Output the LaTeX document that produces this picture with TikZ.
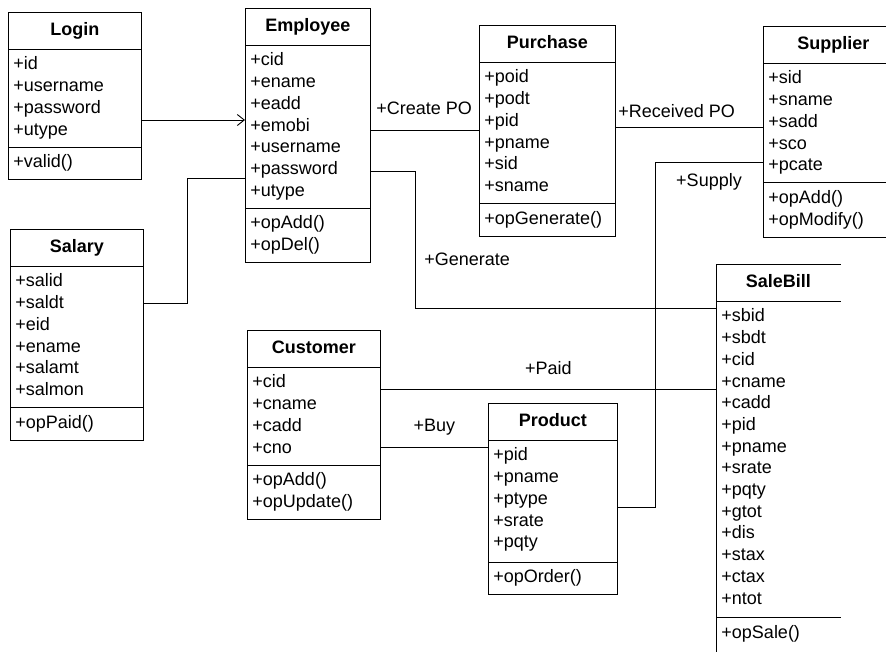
\documentclass[tikz,border=0pt]{standalone}
\usepackage{fontspec}
\setmainfont{Liberation Sans}
\usetikzlibrary{shapes.multipart,arrows.meta}

\newcommand{\clsname}[1]{\makebox[\linewidth]{\rule[-8pt]{0pt}{26pt}\textbf{#1}}}

\begin{document}
\begin{tikzpicture}[x=1pt,y=-1pt,
cls/.style={rectangle split, rectangle split parts=3, draw, line width=0.9pt,
  inner xsep=5pt, inner ysep=5pt, align=left, anchor=north west,
  font=\fontsize{18}{21.7}\selectfont},
lbl/.style={inner sep=2pt, font=\fontsize{18}{21.7}\selectfont},
link/.style={line width=0.9pt},]
\useasboundingbox (0,0) rectangle (886,651);
\clip (0,0) rectangle (886,651);

\node[cls, text width=123pt] (login) at (8,12)
  {\clsname{Login}
   \nodepart{two}\strut+id\\+username\\+password\\+utype\strut
   \nodepart{three}\strut+valid()\strut};
\node[cls, text width=115pt] (emp) at (245,8)
  {\clsname{Employee}
   \nodepart{two}\strut+cid\\+ename\\+eadd\\+emobi\\+username\\+password\\+utype\strut
   \nodepart{three}\strut+opAdd()\\+opDel()\strut};
\node[cls, text width=123pt] (sal) at (10,229)
  {\clsname{Salary}
   \nodepart{two}\strut+salid\\+saldt\\+eid\\+ename\\+salamt\\+salmon\strut
   \nodepart{three}\strut+opPaid()\strut};
\node[cls, text width=123pt] (cust) at (247,330)
  {\clsname{Customer}
   \nodepart{two}\strut+cid\\+cname\\+cadd\\+cno\strut
   \nodepart{three}\strut+opAdd()\\+opUpdate()\strut};
\node[cls, text width=126pt] (pur) at (479,25)
  {\clsname{Purchase}
   \nodepart{two}\strut+poid\\+podt\\+pid\\+pname\\+sid\\+sname\strut
   \nodepart{three}\strut+opGenerate()\strut};
\node[cls, text width=130pt] (sup) at (763,26)
  {\clsname{Supplier}
   \nodepart{two}\strut+sid\\+sname\\+sadd\\+sco\\+pcate\strut
   \nodepart{three}\strut+opAdd()\\+opModify()\strut};
\node[cls, text width=119pt] (prod) at (488,403)
  {\clsname{Product}
   \nodepart{two}\strut+pid\\+pname\\+ptype\\+srate\\+pqty\rule[-9pt]{0pt}{9pt}
   \nodepart{three}\strut+opOrder()\strut};
\node[cls, draw=none, text width=114pt] (sb) at (716,264)
  {\clsname{SaleBill}
   \nodepart{two}\strut+sbid\\+sbdt\\+cid\\+cname\\+cadd\\+pid\\+pname\\+srate\\+pqty\\+gtot\\+dis\\+stax\\+ctax\\+ntot\rule[-8pt]{0pt}{8pt}
   \nodepart{three}\strut+opSale()\rule[-14pt]{0pt}{14pt}};
% salebill runs off the page on the right
\draw[link] (sb.north east) -- (sb.north west) -- (sb.south west);
\draw[link] (sb.text split west) -- (sb.text split east)
            (sb.two split west) -- (sb.two split east);

\draw[link, -{Straight Barb[length=7pt,width=11pt]}] ([yshift=-108pt]login.north east) -- ([yshift=-112pt]emp.north west);
\draw[link] ([yshift=-74pt]sal.north east) -- ++(44,0) |- ([yshift=-170pt]emp.north west);
\draw[link] ([yshift=-122pt]emp.north east) -- ([yshift=-105pt]pur.north west)
  node[lbl, pos=0, above right, xshift=3pt, yshift=13pt] {+Create PO};
\draw[link] ([yshift=-163pt]emp.north east) -- ++(45,0) -- ++(0,88)
  node[lbl, right, xshift=6pt] {+Generate} |- ([yshift=-44pt]sb.north west);
\draw[link] ([yshift=-102pt]pur.north east) -- ([yshift=-101pt]sup.north west)
  node[lbl, pos=0, above right, yshift=7pt] {+Received PO};
\draw[link] ([yshift=-136pt]sup.north west) -- ++(-108,0)
  node[lbl, midway, below, yshift=-9pt] {+Supply} |- ([yshift=-104pt]prod.north east);
\draw[link] ([yshift=-59pt]cust.north east) -- ([yshift=-125pt]sb.north west)
  node[lbl, midway, above, yshift=12pt] {+Paid};
\draw[link] ([yshift=-117pt]cust.north east) -- ([yshift=-44pt]prod.north west)
  node[lbl, midway, above, yshift=9pt] {+Buy};
\end{tikzpicture}
\end{document}
